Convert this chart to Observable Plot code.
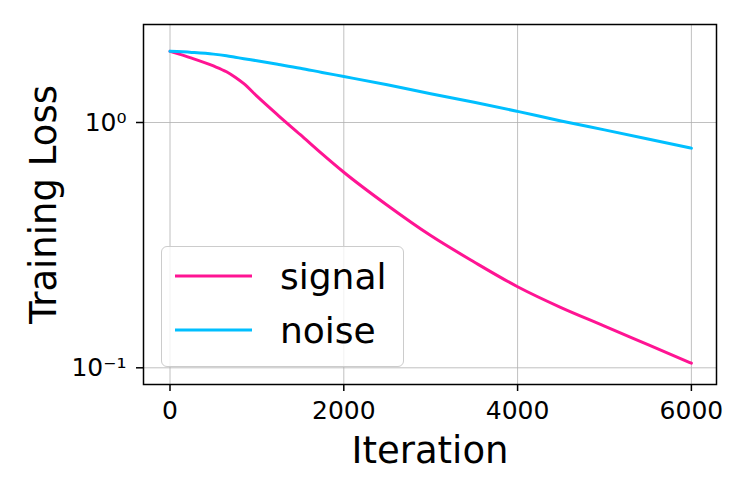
<!DOCTYPE html>
<html>
<head>
<meta charset="utf-8">
<script src="https://cdn.jsdelivr.net/npm/d3@7"></script>
<script src="https://cdn.jsdelivr.net/npm/@observablehq/plot@0.6"></script>
<style>
  html, body { margin: 0; padding: 0; background: #fff; }
  #wrap { position: relative; width: 747px; height: 498px; font-family: "DejaVu Sans", sans-serif; }
  #legend { position: absolute; left: 161px; top: 246px; width: 243px; height: 121px;
            box-sizing: border-box; border: 1.5px solid #cccccc; border-radius: 6px;
            background: rgba(255,255,255,0.8); }
  #legend svg { position: absolute; left: 0; top: 0; }
</style>
</head>
<body>
<div id="wrap"></div>
<script>
const iterations = [0, 250, 500, 650, 750, 850, 1000, 1250, 1500, 1750, 2000, 2500, 3000, 3500, 4000, 4500, 5000, 5500, 6000];
const signalLoss = [1.95, 1.83, 1.70, 1.61, 1.53, 1.44, 1.28, 1.065, 0.892, 0.745, 0.627, 0.46, 0.346, 0.270, 0.214, 0.176, 0.148, 0.1243, 0.1044];
const noiseLoss  = [1.95, 1.93, 1.90, 1.87, 1.845, 1.82, 1.785, 1.725, 1.665, 1.60, 1.54, 1.425, 1.31, 1.21, 1.11, 1.015, 0.933, 0.857, 0.786];
const seriesNames = ["signal", "noise"];
const seriesColors = ["#ff1493", "#00bfff"];
const xTicks = [0, 2000, 4000, 6000];
const yTicks = [0.1, 1];
const xLabel = "Iteration";
const yLabel = "Training Loss";

const sup = {"-": "⁻", "0": "⁰", "1": "¹", "2": "²", "3": "³", "4": "⁴", "5": "⁵", "6": "⁶", "7": "⁷", "8": "⁸", "9": "⁹"};
const fmtPow = d => "10" + String(Math.round(Math.log10(d))).split("").map(c => sup[c]).join("");

const data = [];
iterations.forEach((it, i) => {
  data.push({iter: it, loss: signalLoss[i], series: seriesNames[0]});
  data.push({iter: it, loss: noiseLoss[i], series: seriesNames[1]});
});

const font = "DejaVu Sans";
const chart = Plot.plot({
  width: 747,
  height: 498,
  marginLeft: 143,
  marginRight: 31,
  marginTop: 24,
  marginBottom: 114,
  style: {fontFamily: font, background: "white", color: "black"},
  x: {domain: [-305, 6289]},
  y: {type: "log", domain: [0.0855, 2.509]},
  color: {domain: seriesNames, range: seriesColors},
  marks: [
    Plot.gridX(xTicks, {stroke: "#b0b0b0", strokeOpacity: 1, strokeWidth: 0.8}),
    Plot.gridY(yTicks, {stroke: "#b0b0b0", strokeOpacity: 1, strokeWidth: 0.8}),
    Plot.line(data, {x: "iter", y: "loss", z: "series", stroke: "series", strokeWidth: 3, curve: "monotone-x"}),
    Plot.frame({stroke: "black", strokeWidth: 1.5}),
    Plot.axisX(xTicks, {tickSize: 7, tickPadding: 10, fontSize: 25, strokeWidth: 1.5, tickFormat: d => String(d), label: null}),
    Plot.axisY(yTicks, {tickSize: 7, tickPadding: 10, fontSize: 25, strokeWidth: 1.5, tickFormat: fmtPow, label: null}),
    Plot.text([xLabel], {text: d => d, frameAnchor: "bottom", dy: 78, lineAnchor: "bottom", textAnchor: "middle", fontSize: 37, fill: "black"}),
    Plot.text([yLabel], {text: d => d, frameAnchor: "left", dx: -88, rotate: -90, lineAnchor: "bottom", textAnchor: "middle", fontSize: 37, fill: "black"})
  ]
});

const wrap = document.getElementById("wrap");
wrap.appendChild(chart);

// legend
const legend = document.createElement("div");
legend.id = "legend";
const ns = "http://www.w3.org/2000/svg";
const lsvg = document.createElementNS(ns, "svg");
lsvg.setAttribute("width", 243);
lsvg.setAttribute("height", 121);
seriesNames.forEach((name, i) => {
  const yy = 29 + i * 54;
  const ln = document.createElementNS(ns, "line");
  ln.setAttribute("x1", 13); ln.setAttribute("x2", 90);
  ln.setAttribute("y1", yy); ln.setAttribute("y2", yy);
  ln.setAttribute("stroke", seriesColors[i]);
  ln.setAttribute("stroke-width", 3);
  lsvg.appendChild(ln);
  const tx = document.createElementNS(ns, "text");
  tx.setAttribute("x", 118);
  tx.setAttribute("y", yy + 13);
  tx.setAttribute("font-family", font);
  tx.setAttribute("font-size", 36);
  tx.setAttribute("fill", "black");
  tx.textContent = name;
  lsvg.appendChild(tx);
});
legend.appendChild(lsvg);
wrap.appendChild(legend);
</script>
</body>
</html>
